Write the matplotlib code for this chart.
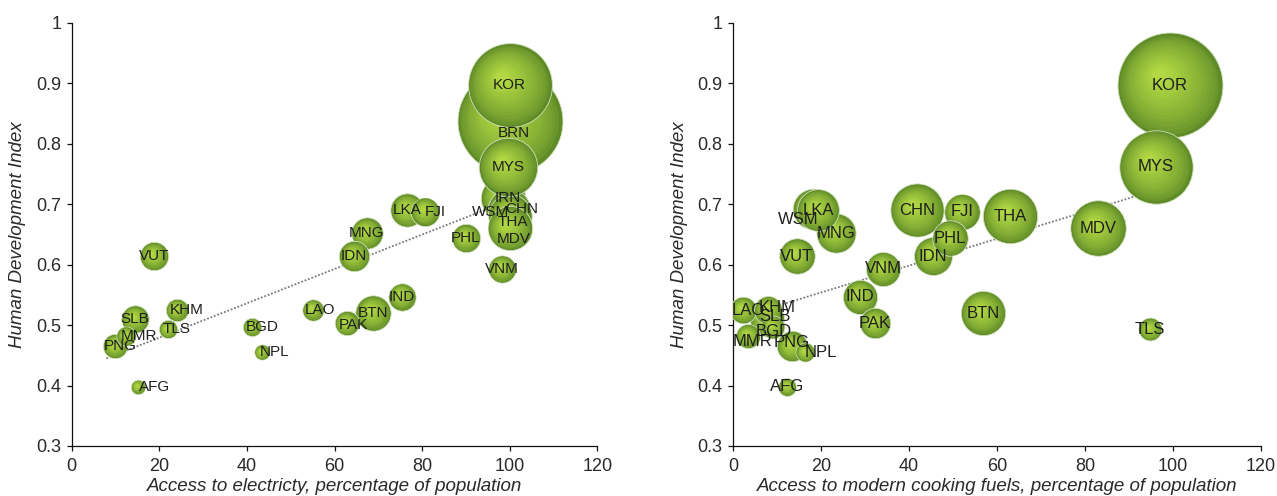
import numpy as np
import matplotlib
matplotlib.use("Agg")
import matplotlib.pyplot as plt
from matplotlib.transforms import offset_copy
from matplotlib.colors import to_rgb
from matplotlib.ticker import FuncFormatter, MultipleLocator

# ---------------- data ----------------
countries = ['BRN', 'KOR', 'IRN', 'WSM', 'CHN', 'THA', 'MDV', 'MYS', 'MNG', 'LKA',
             'FJI', 'IDN', 'PHL', 'BTN', 'VNM', 'IND', 'PAK', 'VUT', 'SLB', 'LAO',
             'KHM', 'PNG', 'MMR', 'BGD', 'TLS', 'NPL', 'AFG']
hdi = [0.838, 0.897, 0.710, 0.692, 0.690, 0.680, 0.660, 0.762, 0.652, 0.690,
       0.688, 0.614, 0.644, 0.520, 0.593, 0.547, 0.503, 0.614, 0.510, 0.525,
       0.525, 0.465, 0.482, 0.497, 0.493, 0.455, 0.398]
elec_access = [100.0, 100.0, 98.5, 98.7, 99.8, 100.0, 100.0, 99.6, 67.4, 76.6,
               80.7, 64.5, 90.0, 68.8, 98.2, 75.4, 62.8, 18.8, 14.5, 55.1,
               24.0, 9.9, 12.5, 41.2, 22.0, 43.4, 15.1]
cooking_access = [np.nan, 99.3, np.nan, 18.2, 41.8, 63.0, 83.0, 96.1, 23.4, 19.3,
                  52.0, 45.5, 49.3, 56.8, 34.1, 28.9, 32.3, 14.5, 7.7, 2.3,
                  8.0, 13.4, 3.4, 9.0, 94.8, 16.4, 12.3]
bubble_size = [2700, 1720, 484, 256, 441, 462, 480, 840, 240, 272,
               196, 225, 196, 306, 182, 182, 144, 196, 182, 110,
               121, 144, 90, 81, 81, 56, 49]

xlabel_left = 'Access to electricty, percentage of population'
xlabel_right = 'Access to modern cooking fuels, percentage of population'
ylabel = 'Human Development Index'

# label nudges (points) for each panel
left_nudge = {'BRN': (3, -9), 'IRN': (3.5, 0), 'WSM': (-10, -2), 'CHN': (9.5, 1),
              'THA': (2, -4), 'MDV': (3, -7.5), 'FJI': (7, 0), 'LAO': (5, 0),
              'PAK': (5, -1.5), 'BGD': (7, 0), 'NPL': (9.5, 0), 'AFG': (12, 0),
              'KHM': (7, 0), 'TLS': (6.5, 0), 'PNG': (4, 0), 'MMR': (9, 0)}
right_nudge = {'WSM': (-11, -7.5), 'LAO': (3.5, 0), 'KHM': (6.5, 2), 'SLB': (6, 2),
               'BGD': (1, -3), 'MMR': (3.5, -4), 'PNG': (0, 3), 'NPL': (11, 0)}

plt.rcParams['font.family'] = ['Liberation Sans', 'DejaVu Sans']

W, H = 1277, 496
fig = plt.figure(figsize=(W / 100, H / 100), dpi=100)

MAX_R_PX = 52.5
PX2PT = 0.72
outer_c = np.array(to_rgb('#5e8a28'))
inner_c = np.array(to_rgb('#b2d943'))
N_LAYERS = 16


def draw_panel(ax, xvals, nudges, xlabel, label_fs):
    x = np.asarray(xvals, float)
    y = np.asarray(hdi, float)
    s = np.asarray(bubble_size, float)
    ok = ~np.isnan(x)
    smax = s[ok].max()

    # trendline (linear fit), drawn under bubbles
    coef = np.polyfit(x[ok], y[ok], 1)
    xt = np.array([x[ok].min() - 2, x[ok].max()])
    ax.plot(xt, np.polyval(coef, xt), linestyle=(0, (1, 1)), color='#7a7a7a',
            lw=1.3, zorder=2)

    z = 3
    for i, name in enumerate(countries):
        if not ok[i]:
            continue
        R = MAX_R_PX * np.sqrt(s[i] / smax) * PX2PT  # radius in points
        for k in range(N_LAYERS):
            t = k / (N_LAYERS - 1)
            r = R * (1 - 0.88 * t)
            c = outer_c + (inner_c - outer_c) * (t ** 0.7)
            tr = offset_copy(ax.transData, fig=fig, x=-0.2 * R * t,
                             y=0.2 * R * t, units='points')
            if k == 0:
                kw = dict(edgecolors='#d3e2bd', linewidths=0.6)
            else:
                kw = dict(linewidths=0)
            ax.scatter([x[i]], [y[i]], s=(2 * r) ** 2, color=[c], transform=tr,
                       zorder=z, **kw)
            z += 0.001
        z += 0.01

    for i, name in enumerate(countries):
        if not ok[i]:
            continue
        dx, dy = nudges.get(name, (0, 0))
        ax.annotate(name, (x[i], y[i]), xytext=(dx, dy), textcoords='offset points',
                    ha='center', va='center', fontsize=label_fs, color='#1e1e1e',
                    zorder=100)

    ax.set_xlim(0, 120)
    ax.set_ylim(0.3, 1.0)
    ax.xaxis.set_major_locator(MultipleLocator(20))
    ax.yaxis.set_major_locator(MultipleLocator(0.1))
    ax.yaxis.set_major_formatter(FuncFormatter(lambda v, p: '{:g}'.format(round(v, 2))))
    for sp in ['top', 'right']:
        ax.spines[sp].set_visible(False)
    for sp in ['left', 'bottom']:
        ax.spines[sp].set_color('#111111')
        ax.spines[sp].set_linewidth(0.9)
    ax.tick_params(direction='out', length=3.6, width=0.9, labelsize=13,
                   colors='#111111', labelcolor='#2a2a2a')
    ax.tick_params(axis='x', pad=5)
    ax.tick_params(axis='y', pad=4)
    ax.set_xlabel(xlabel, fontsize=13.5, style='italic', color='#2a2a2a', labelpad=2)
    ax.set_ylabel(ylabel, fontsize=13.5, style='italic', color='#2a2a2a', labelpad=7)


axL = fig.add_axes([71.7 / W, 50 / H, 525.6 / W, 423 / H])
axR = fig.add_axes([733 / W, 50 / H, 528 / W, 423 / H])
draw_panel(axL, elec_access, left_nudge, xlabel_left, 11)
draw_panel(axR, cooking_access, right_nudge, xlabel_right, 12)

fig.savefig('out.png', dpi=100)
